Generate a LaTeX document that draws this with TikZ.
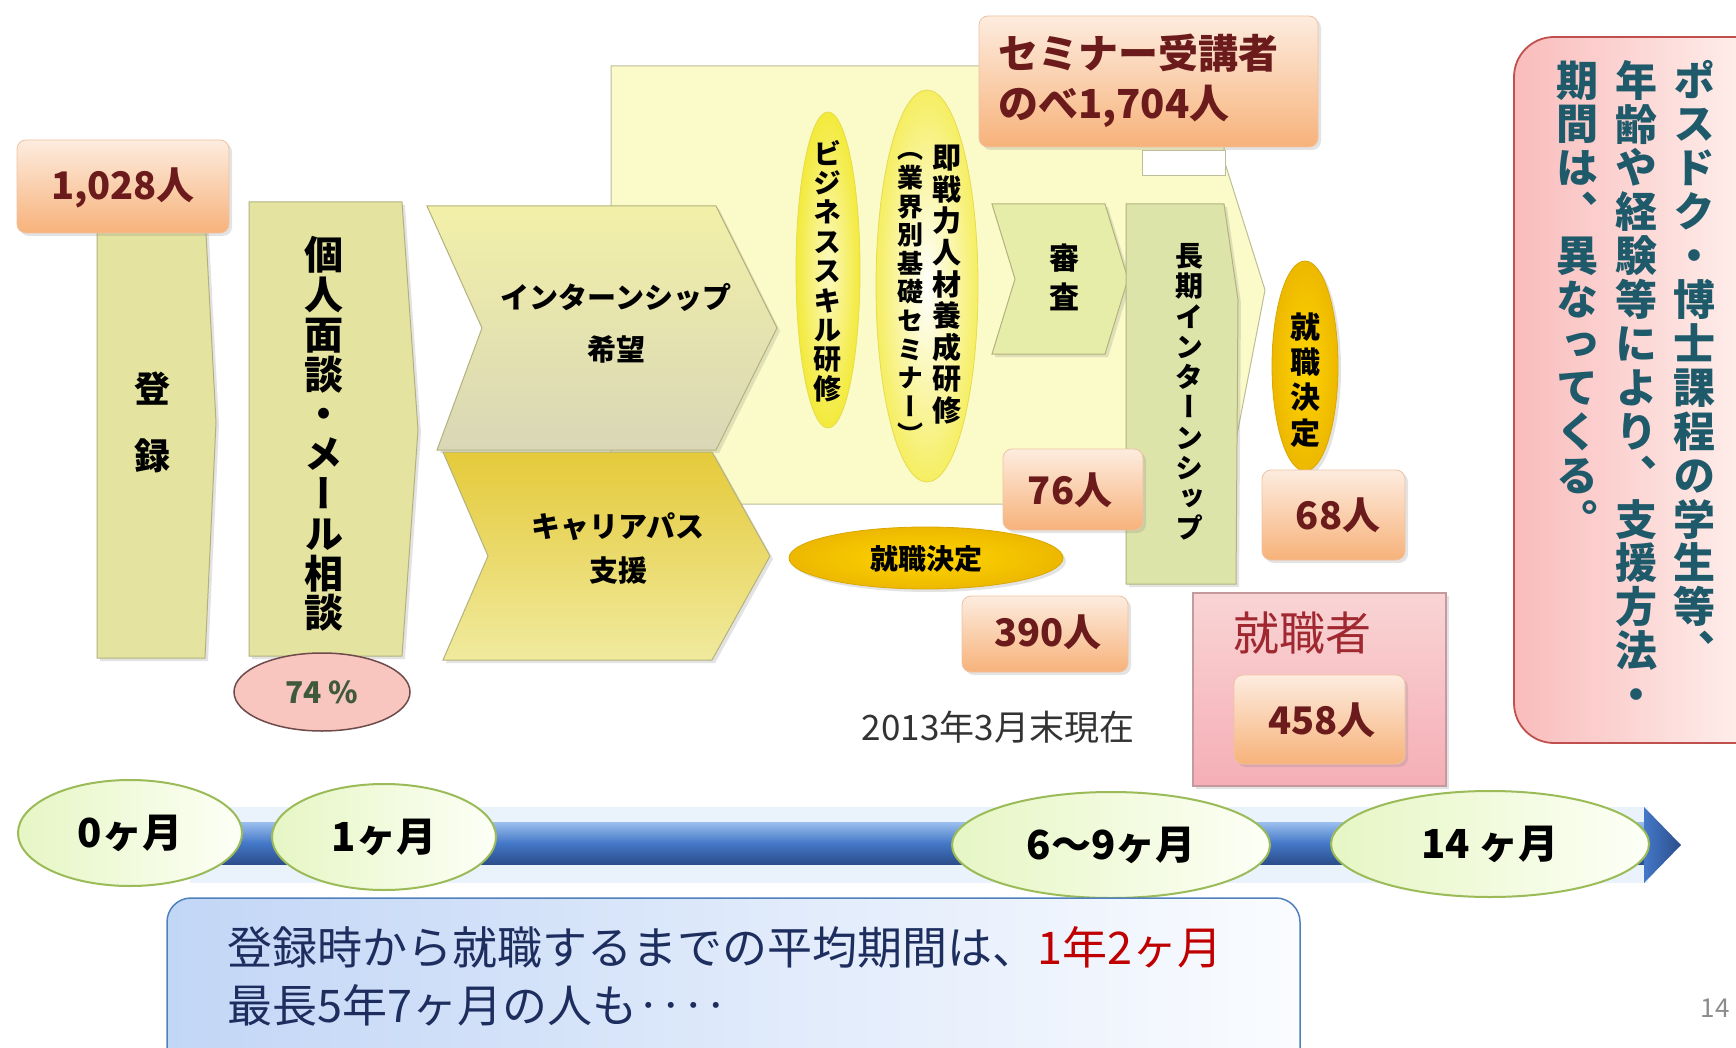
\documentclass[tikz,border=0pt]{standalone}
\usepackage{fontspec}
\setmainfont{Noto Sans CJK JP}
\newfontfamily\jp{Noto Sans CJK JP}
\newfontfamily\jpv[RawFeature={+vert}]{Noto Sans CJK JP}
\usetikzlibrary{shapes.geometric,shadows}
\makeatletter
\newcommand\vtext[2][1]{\vbox{\offinterlineskip\@tfor\vt@c:=#2\do{\hbox to 1em{\hss\vrule height\dimexpr(#1em-1em)/2+.88em\relax depth\dimexpr(#1em-1em)/2+.12em\relax width 0pt\relax\vt@c\hss}}}}
\makeatother
\definecolor{peachT}{HTML}{FDECDF}
\definecolor{peachB}{HTML}{F7B27A}
\definecolor{peachD}{HTML}{EFC2A2}
\definecolor{numred}{HTML}{6B1B1B}
\definecolor{colF}{HTML}{E4E3A0}
\definecolor{colD}{HTML}{B3B27E}
\definecolor{chevAT}{HTML}{F2F0A8}
\definecolor{chevAB}{HTML}{D9D7B6}
\definecolor{chevBT}{HTML}{E5CA3A}
\definecolor{chevBB}{HTML}{F0EA9E}
\definecolor{bgY}{HTML}{FBFAC9}
\definecolor{bgD}{HTML}{BDBD98}
\definecolor{ellI}{HTML}{FBF9C0}
\definecolor{ellO}{HTML}{F3EA3A}
\definecolor{ellD}{HTML}{E6DC50}
\definecolor{goldI}{HTML}{FFD500}
\definecolor{goldO}{HTML}{EDB800}
\definecolor{goldD}{HTML}{D9A800}
\definecolor{shinsa}{HTML}{E6EDA8}
\definecolor{choki}{HTML}{DDE4AA}
\definecolor{pinkT}{HTML}{F9D4D4}
\definecolor{pinkB}{HTML}{F5AEB6}
\definecolor{pinkD}{HTML}{C49A9E}
\definecolor{pctF}{HTML}{F8C6BE}
\definecolor{pctD}{HTML}{6E4A4A}
\definecolor{pctT}{HTML}{3E5A3A}
\definecolor{teal}{HTML}{1F5A6B}
\definecolor{navy}{HTML}{1C2D5E}
\definecolor{redT}{HTML}{C00000}
\definecolor{tlD}{HTML}{9BBB59}
\definecolor{tlL}{HTML}{E6F6C4}
\definecolor{tlR}{HTML}{FDFFF6}
\definecolor{barT}{HTML}{9CC0EE}
\definecolor{barM}{HTML}{4478C8}
\definecolor{barB}{HTML}{2C4E8C}
\definecolor{glow}{HTML}{EAF2FC}
\definecolor{boxL}{HTML}{C2D6F6}
\definecolor{boxR}{HTML}{FAFCFF}
\definecolor{boxD}{HTML}{4F81BD}
\definecolor{rbL}{HTML}{F9BCBC}
\definecolor{rbR}{HTML}{FFF6F2}
\definecolor{rbD}{HTML}{C0504D}
\definecolor{shukuT}{HTML}{A02830}
\tikzset{
 shd/.style={drop shadow={opacity=0.22,shadow xshift=3pt,shadow yshift=-3pt}},
 numbox/.style={rounded corners=9pt,top color=peachT,bottom color=peachB,draw=peachD,line width=0.8pt,shd},
 numtxt/.style={inner sep=0pt,text=numred,font=\jp\bfseries\fontsize{38}{40}\selectfont},
 colbox/.style={fill=colF,draw=colD,line width=1pt,shd},
 vtx/.style={inner sep=0pt,text=black},
 yell/.style={ellipse,inner sep=0pt,inner color=ellI,outer color=ellO,draw=ellD,line width=0.8pt},
 goldell/.style={ellipse,inner sep=0pt,inner color=goldI,outer color=goldO,draw=goldD,line width=0.8pt,shd},
 tlell/.style={ellipse,inner sep=0pt,minimum height=106pt,left color=tlL,right color=tlR,draw=tlD,line width=2pt,font=\jp\bfseries\fontsize{40}{42}\selectfont,text=black},
 bodytxt/.style={inner sep=0pt,anchor=west,text=navy,font=\jp\fontsize{45}{47}\selectfont},
}
\begin{document}
\begin{tikzpicture}[x=1pt,y=-1pt]
\useasboundingbox (0,0) rectangle (1736,1048);
\fill[white] (0,0) rectangle (1736,1048);

% large background arrow
\draw[draw=bgD,line width=1pt,fill=bgY] (611,66) -- (1224,66) -- (1224,160) -- (1265,290) -- (1236,440) -- (1236,504) -- (611,504) -- cycle;
\draw[draw=bgD,fill=white,line width=0.8pt] (1142,150) rectangle (1225,175);

% left columns
\draw[colbox] (97,215) -- (205,215) -- (216,422) -- (205,658) -- (97,658) -- cycle;
\draw[numbox] (17,140) rectangle (229,233);
\node[numtxt] (n1028) at (123,188) {1,028人};
\node[vtx,font=\jpv\bfseries\fontsize{36}{36}\selectfont] (toroku) at (152,422) {\vtext[1.86]{登録}};

\draw[colbox] (249,202) -- (402,202) -- (418,430) -- (402,656) -- (249,656) -- cycle;
\node[vtx,font=\jpv\bfseries\fontsize{39}{39}\selectfont] (kojin) at (324,434) {\vtext[1.02]{個人面談・メール相談}};
\node[ellipse,inner sep=0pt,minimum width=176pt,minimum height=78pt,fill=pctF,draw=pctD,line width=1.5pt,text=pctT,font=\jp\bfseries\fontsize{30}{32}\selectfont] (pct) at (322,692) {74 \%};

% chevrons
\draw[top color=chevAT,bottom color=chevAB,draw=colD,line width=1pt,shd] (427,206) -- (716,206) -- (777,328) -- (716,450) -- (437,450) -- (482,328) -- cycle;
\node[vtx,align=center,font=\jp\bfseries\fontsize{29}{52}\selectfont] (intern) at (616,323) {インターンシップ\\希望};
\draw[top color=chevBT,bottom color=chevBB,draw=colD,line width=1pt,shd] (443,452) -- (712,452) -- (770,556) -- (712,660) -- (443,660) -- (488,556) -- cycle;
\node[vtx,align=center,font=\jp\bfseries\fontsize{29}{44}\selectfont] (career) at (618,548) {キャリアパス\\支援};

% seminar ellipses
\node[yell,minimum width=64pt,minimum height=316pt] (bizE) at (828,270) {};
\node[vtx,font=\jpv\bfseries\fontsize{28}{28}\selectfont] (biz) at (827,271) {\vtext[1.05]{ビジネススキル研修}};
\node[yell,minimum width=102pt,minimum height=392pt,inner color=white,outer color=ellO!80!white] (sokE) at (927,286) {};
\node[vtx,font=\jpv\bfseries\fontsize{29}{29}\selectfont] (soku) at (947,284) {\vtext[1.09]{即戦力人材養成研修}};
\node[vtx,font=\jpv\bfseries\fontsize{26}{26}\selectfont] (gyokai) at (910,292) {\vtext[1.1]{（業界別基礎セミナー）}};

% seminar count box
\draw[numbox] (979,16) rectangle (1318,147);
\node[numtxt,anchor=west,font=\jp\bfseries\fontsize{40}{42}\selectfont] (sem1) at (998,53) {セミナー受講者};
\node[numtxt,anchor=west,font=\jp\bfseries\fontsize{40}{42}\selectfont] (sem2) at (998,106) {のべ1,704人};

% shinsa chevron
\draw[fill=shinsa,draw=colD,line width=1pt,shd] (992,204) -- (1105,204) -- (1128,279) -- (1105,354) -- (992,354) -- (1015,279) -- cycle;
\node[vtx,font=\jpv\bfseries\fontsize{30}{30}\selectfont] (shinsa) at (1064,278) {\vtext[1.3]{審査}};

% long internship column
\draw[fill=choki,draw=colD,line width=1pt,shd] (1126,204) -- (1224,204) -- (1238,300) -- (1236,584) -- (1126,584) -- cycle;
\node[vtx,font=\jpv\bfseries\fontsize{28}{28}\selectfont] (choki) at (1189,392) {\vtext[1.08]{長期インターンシップ}};

% counts
\draw[numbox] (1003,449) rectangle (1143,530);
\node[numtxt] (n76) at (1070,490) {76人};
\node[goldell,minimum width=274pt,minimum height=62pt] (kettei1) at (926,558) {};
\node[vtx,font=\jp\bfseries\fontsize{28}{30}\selectfont] (kettei1t) at (926,559) {就職決定};
\draw[numbox] (962,596) rectangle (1128,672);
\node[numtxt] (n390) at (1048,632) {390人};
\node[inner sep=0pt,text=black!80,font=\jp\fontsize{35}{37}\selectfont] (date) at (998,727) {2013年3月末現在};

\node[goldell,minimum width=66pt,minimum height=210pt] (kettei2) at (1305,366) {};
\node[vtx,font=\jpv\bfseries\fontsize{30}{30}\selectfont] (kettei2t) at (1305,380) {\vtext[1.17]{就職決定}};
\draw[numbox] (1262,470) rectangle (1405,560);
\node[numtxt] (n68) at (1338,515) {68人};

\draw[top color=pinkT,bottom color=pinkB,draw=pinkD,line width=1.5pt,shd] (1193,593) rectangle (1446,786);
\node[inner sep=0pt,text=shukuT,font=\jp\fontsize{46}{48}\selectfont] (shuku) at (1302,633) {就職者};
\draw[numbox] (1234,675) rectangle (1405,764);
\node[numtxt] (n458) at (1322,720) {458人};

% right note box
\draw[rounded corners=40pt,left color=rbL,right color=rbR,draw=rbD,line width=1.8pt] (1514,37) rectangle (1780,743);
\node[vtx,anchor=north,text=teal,font=\jpv\bfseries\fontsize{42}{42}\selectfont] (rc1) at (1694,58) {\vtext[1.045]{ポスドク・博士課程の学生等、}};
\node[vtx,anchor=north,text=teal,font=\jpv\bfseries\fontsize{42}{42}\selectfont] (rc2) at (1636,58) {\vtext[1.045]{年齢や経験等により、支援方法・}};
\node[vtx,anchor=north,text=teal,font=\jpv\bfseries\fontsize{42}{42}\selectfont] (rc3) at (1577,58) {\vtext[1.045]{期間は、異なってくる。}};

% timeline
\fill[glow] (190,807) rectangle (1648,883);
\shade[top color=barT,bottom color=barB,middle color=barM] (200,822) rectangle (1646,864);
\shade[left color=barM,right color=barB] (1644,807) -- (1681,845) -- (1644,883) -- cycle;
\node[tlell,minimum width=224pt] (m0) at (130,833) {0ヶ月};
\node[tlell,minimum width=224pt] (m1) at (384,837) {1ヶ月};
\node[tlell,minimum width=318pt] (m6) at (1111,845) {6〜9ヶ月};
\node[tlell,minimum width=318pt] (m14) at (1490,844) {14 ヶ月};

% bottom summary box
\draw[rounded corners=24pt,left color=boxL,right color=boxR,draw=boxD,line width=1.5pt] (167,898) rectangle (1300,1080);
\node[bodytxt] (line1) at (227,947) {登録時から就職するまでの平均期間は、\textcolor{redT}{1年2ヶ月}};
\node[bodytxt] (line2) at (227,1005) {最長5年7ヶ月の人も‥‥};

\node[inner sep=0pt,text=black!45,font=\jp\fontsize{26}{28}\selectfont] (pnum) at (1715,1008) {14};
\end{tikzpicture}
\end{document}
